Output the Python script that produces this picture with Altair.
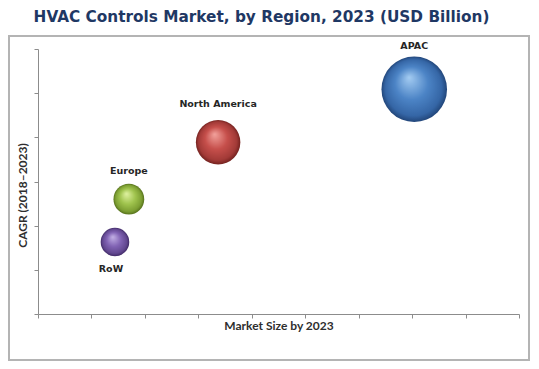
import altair as alt
import pandas as pd

# ---- data ----
regions = ["APAC", "North America", "Europe", "RoW"]
market_size = [7.04, 3.37, 1.70, 1.44]     # x position (axis units, no labels shown)
cagr = [5.09, 3.89, 2.60, 1.63]            # y position (axis units, no labels shown)
bubble_size = [100, 46, 22, 19]            # relative bubble area

df = pd.DataFrame({"region": regions, "market": market_size,
                   "cagr": cagr, "bubble": bubble_size})

# ---- styling ----
palette = {
    "APAC": ["#a4ccf2", "#4c84c6", "#3566a6", "#22467a"],
    "North America": ["#f2a29c", "#c64f4b", "#a23a37", "#74221f"],
    "Europe": ["#e0f2a2", "#a0c44e", "#7c9e32", "#56711c"],
    "RoW": ["#c4b2e6", "#8163b4", "#61478f", "#402a66"],
}
label_offsets = {"APAC": (0, -43), "North America": (0, -38),
                 "Europe": (0, -28), "RoW": (-4, 27)}

LABEL_FONT = "DejaVu Sans"
AXIS_FONT = "Lato"

x_scale = alt.Scale(domain=[0, 9], nice=False, zero=False)
y_scale = alt.Scale(domain=[0, 6], nice=False, zero=False)
size_scale = alt.Scale(domain=[0, 100], range=[0, 4300])

x_axis = alt.Axis(values=list(range(10)), labels=False, grid=False,
                  domainColor="#8c8c8c", tickColor="#8c8c8c", tickSize=4,
                  title="Market Size by 2023", titleFont=AXIS_FONT,
                  titleFontSize=12, titleFontWeight="bold", titleColor="#2e2e2e",
                  titlePadding=2)
y_axis = alt.Axis(values=list(range(7)), labels=False, grid=False,
                  domainColor="#8c8c8c", tickColor="#8c8c8c", tickSize=4,
                  title="CAGR (2018–2023)", titleFont=AXIS_FONT,
                  titleFontSize=12, titleFontWeight="bold", titleColor="#2e2e2e",
                  titlePadding=4, titleY=146)

base = alt.Chart(df)

border = alt.Chart(pd.DataFrame({"k": [0]})).mark_rect(
    fill="white", fillOpacity=0, stroke="#b4b4b4", strokeWidth=2
).encode(x=alt.value(-29), x2=alt.value(491), y=alt.value(-13), y2=alt.value(311))

axes = base.mark_point(opacity=0).encode(
    x=alt.X("market:Q", scale=x_scale, axis=x_axis),
    y=alt.Y("cagr:Q", scale=y_scale, axis=y_axis),
)

layers = [border, axes]
for r in regions:
    c = palette[r]
    grad = {
        "gradient": "radial",
        "x1": 0.42, "y1": 0.32, "r1": 0,
        "x2": 0.5, "y2": 0.5, "r2": 0.5,
        "stops": [
            {"offset": 0.0, "color": c[0]},
            {"offset": 0.5, "color": c[1]},
            {"offset": 0.86, "color": c[2]},
            {"offset": 1.0, "color": c[3]},
        ],
    }
    sub = base.transform_filter(alt.datum.region == r)
    bubble = sub.mark_circle(fill=grad, opacity=1).encode(
        x=alt.X("market:Q", scale=x_scale),
        y=alt.Y("cagr:Q", scale=y_scale),
        size=alt.Size("bubble:Q", scale=size_scale, legend=None),
    )
    dx, dy = label_offsets[r]
    label = sub.mark_text(font=LABEL_FONT, fontSize=9.5, fontWeight="bold",
                          color="#262626", dx=dx, dy=dy, baseline="middle",
                          align="center").encode(
        x=alt.X("market:Q", scale=x_scale),
        y=alt.Y("cagr:Q", scale=y_scale),
        text="region:N",
    )
    layers += [bubble, label]

chart = alt.layer(*layers).properties(
    width=481, height=265,
    padding={"left": 30, "top": 41, "right": 12, "bottom": 47},
    autosize=alt.AutoSizeParams(type="none"),
    title=alt.TitleParams(
        text="HVAC Controls Market, by Region, 2023 (USD Billion)",
        font=LABEL_FONT, fontSize=15.3, fontWeight="bold", color="#1f3864",
        anchor="middle", dx=-17, offset=10,
    ),
).configure_view(stroke=None)

chart.save("out.html", embed_options={"renderer": "svg", "actions": False})
